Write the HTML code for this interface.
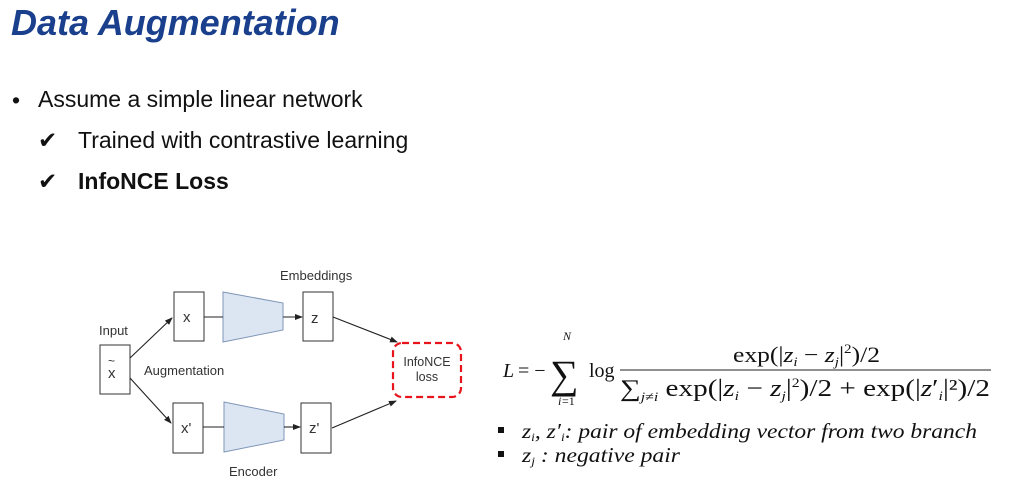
<!DOCTYPE html>
<html><head><meta charset="utf-8"><style>
html,body{margin:0;padding:0;background:#fff;}
body{width:1024px;height:494px;position:relative;overflow:hidden;font-family:"Liberation Sans",sans-serif;}
.t{position:absolute;white-space:nowrap;}
</style></head><body>
<div class="t" style="left:11px;top:2px;font-size:36px;font-weight:bold;font-style:italic;color:#1a3f8c;">Data Augmentation</div>
<div class="t" style="left:12px;top:87px;font-size:23px;color:#111;">•</div>
<div class="t" style="left:38px;top:86px;font-size:23px;color:#111;">Assume a simple linear network</div>
<div class="t" style="left:38px;top:127px;font-size:23px;color:#111;">✔</div>
<div class="t" style="left:78px;top:127px;font-size:23px;color:#111;">Trained with contrastive learning</div>
<div class="t" style="left:38px;top:168px;font-size:23px;color:#111;">✔</div>
<div class="t" style="left:78px;top:168px;font-size:23px;font-weight:bold;color:#111;">InfoNCE Loss</div>

<svg width="1024" height="494" style="position:absolute;left:0;top:0" font-family="Liberation Sans, sans-serif">
<defs><marker id="a" markerWidth="8" markerHeight="8" refX="7" refY="4" orient="auto" markerUnits="userSpaceOnUse"><path d="M0,1 L8,4 L0,7 z" fill="#222"/></marker></defs>
<g fill="#fff" stroke="#333" stroke-width="1">
<rect x="100" y="345" width="30" height="49"/>
<rect x="174" y="292" width="30" height="49"/>
<rect x="303" y="292" width="30" height="49"/>
<rect x="173" y="403" width="30" height="50"/>
<rect x="301" y="403" width="30" height="50"/>
</g>
<polygon points="223,292 283,303 283,330 223,342" fill="#dce6f2" stroke="#7f95b8"/>
<polygon points="224,402 284,414 284,440 224,452" fill="#dce6f2" stroke="#7f95b8"/>
<rect x="393" y="343" width="68" height="54" rx="9" fill="none" stroke="#e8141b" stroke-width="2.2" stroke-dasharray="7,4"/>
<g stroke="#222" stroke-width="1.1" fill="none">
<line x1="130" y1="358" x2="172" y2="318" marker-end="url(#a)"/>
<line x1="130" y1="378" x2="171" y2="423" marker-end="url(#a)"/>
<line x1="204" y1="317" x2="223" y2="317"/>
<line x1="283" y1="317" x2="302" y2="317" marker-end="url(#a)"/>
<line x1="203" y1="427" x2="224" y2="427"/>
<line x1="284" y1="427" x2="300" y2="427" marker-end="url(#a)"/>
<line x1="333" y1="317" x2="397" y2="342" marker-end="url(#a)"/>
<line x1="332" y1="428" x2="396" y2="401" marker-end="url(#a)"/>
</g>
<g font-size="13" fill="#333">
<text x="99" y="335">Input</text>
<text x="144" y="375">Augmentation</text>
<text x="280" y="280">Embeddings</text>
<text x="229" y="476">Encoder</text>
<text x="108" y="378" font-size="15">x</text>
<text x="108" y="365" font-size="12">~</text>
<text x="183" y="322" font-size="15">x</text>
<text x="311" y="323" font-size="15">z</text>
<text x="181" y="433" font-size="15">x'</text>
<text x="309" y="433" font-size="15">z'</text>
<text x="427" y="366" text-anchor="middle" font-size="12.5">InfoNCE</text>
<text x="427" y="381" text-anchor="middle" font-size="12.5">loss</text>
</g>
<g font-family="Liberation Serif, serif" fill="#111">
<text x="503" y="377" font-size="20" font-style="italic">L</text>
<text x="518" y="377" font-size="20">= −</text>
<text x="550" y="388" font-size="40">∑</text>
<text x="563" y="340" font-size="12" font-style="italic">N</text>
<text x="558" y="405" font-size="12" font-style="italic">i</text><text x="562" y="405" font-size="12">=1</text>
<text x="589" y="377" font-size="20">log</text>
<line x1="620" y1="370" x2="991" y2="370" stroke="#222" stroke-width="1"/>
<text x="733" y="362" font-size="22" textLength="147" lengthAdjust="spacingAndGlyphs">exp(|<tspan font-style="italic">z</tspan><tspan font-size="13" font-style="italic" dy="4">i</tspan><tspan dy="-4"> − </tspan><tspan font-style="italic">z</tspan><tspan font-size="13" font-style="italic" dy="4">j</tspan><tspan dy="-4">|</tspan><tspan font-size="13" dy="-9">2</tspan><tspan dy="9">)/2</tspan></text>
<text x="620" y="396" font-size="24" textLength="370" lengthAdjust="spacingAndGlyphs">∑<tspan font-size="13" font-style="italic" dy="5">j≠i</tspan><tspan dy="-5"> exp(|</tspan><tspan font-style="italic">z</tspan><tspan font-size="13" font-style="italic" dy="4">i</tspan><tspan dy="-4"> − </tspan><tspan font-style="italic">z</tspan><tspan font-size="13" font-style="italic" dy="4">j</tspan><tspan dy="-4">|</tspan><tspan font-size="13" dy="-9">2</tspan><tspan dy="9">)/2 + exp(|</tspan><tspan font-style="italic">z</tspan><tspan>′</tspan><tspan font-size="13" font-style="italic" dy="4">i</tspan><tspan dy="-4">|²)/2</tspan></text>
<rect x="498" y="427" width="6" height="6" fill="#111"/>
<rect x="498" y="451" width="6" height="6" fill="#111"/>
<text x="522" y="438" font-size="21" font-style="italic" textLength="455" lengthAdjust="spacingAndGlyphs">z<tspan font-size="12" dy="3">i</tspan><tspan dy="-3">, z′</tspan><tspan font-size="12" dy="3">i</tspan><tspan dy="-3">: pair of embedding vector from two branch</tspan></text>
<text x="522" y="462" font-size="21" font-style="italic" textLength="158" lengthAdjust="spacingAndGlyphs">z<tspan font-size="12" dy="3">j</tspan><tspan dy="-3"> : negative pair</tspan></text>
</g>
</svg>
</body></html>
